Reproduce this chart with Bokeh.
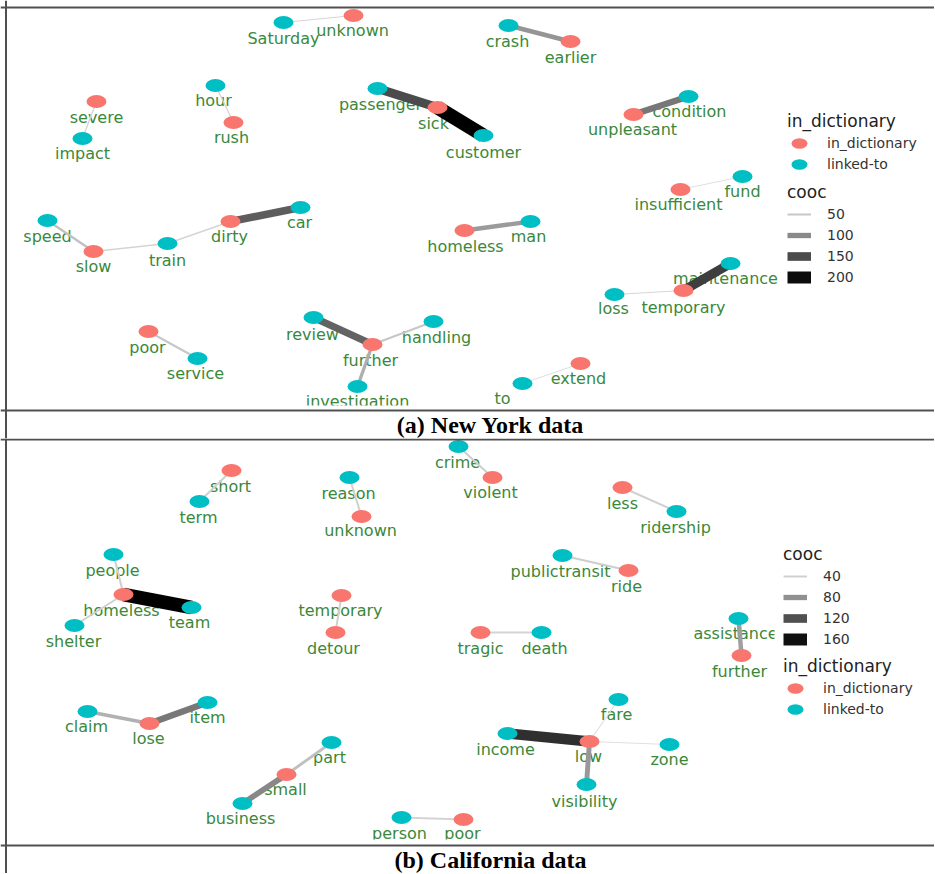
import numpy as np
from bokeh.plotting import figure
from bokeh.models import (ColumnDataSource, Range1d, Span, Label, Legend,
                          LegendItem, BoxAnnotation)
from bokeh.layouts import column
from bokeh.transform import linear_cmap
from bokeh.core.properties import value
from bokeh.embed import file_html
from bokeh.resources import INLINE

# ---------------- (a) New York data ----------------
ny_names = ["Saturday", "unknown", "crash", "earlier", "severe", "impact", "hour", "rush",
            "passenger", "sick", "customer", "unpleasant", "condition", "insufficient", "fund",
            "speed", "slow", "train", "dirty", "car", "homeless", "man", "maintenance", "loss",
            "temporary", "poor", "service", "review", "further", "handling", "investigation",
            "to", "extend"]
ny_kind = ["L", "D", "L", "D", "D", "L", "L", "D", "L", "D", "L", "D", "L", "D", "L",
           "L", "D", "L", "D", "L", "D", "L", "L", "L", "D", "D", "L", "L", "D", "L", "L",
           "L", "D"]
ny_x = [283, 353, 508, 570, 96, 82, 215, 233, 377, 437, 483, 633, 688, 680, 742,
        47, 93, 167, 230, 300, 464, 530, 730, 614, 683, 148, 197, 313, 372, 433, 357, 522, 580]
ny_y = [22, 15, 25, 41, 101, 138, 85, 122, 88, 107, 135, 114, 96, 189, 176,
        220, 251, 243, 221, 207, 230, 221, 263, 294, 290, 331, 358, 317, 344, 321, 386, 383, 363]
ny_lx = [283, 352, 507, 570, 96, 82, 213, 231, 380, 433, 483, 632, 689, 678, 742,
         47, 93, 167, 229, 299, 465, 528, 725, 613, 683, 147, 195, 312, 370, 436, 357, 502, 578]
ny_ly = [38, 30, 41, 57, 117, 153, 100, 137, 104, 123, 152, 129, 111, 204, 191,
         236, 266, 260, 236, 222, 246, 236, 278, 308, 307, 347, 373, 334, 360, 337, 401, 398, 378]
ny_from = ["Saturday", "crash", "severe", "hour", "passenger", "sick", "unpleasant", "insufficient",
           "speed", "slow", "train", "dirty", "homeless", "maintenance", "loss", "poor", "review",
           "further", "further", "to"]
ny_to = ["unknown", "earlier", "impact", "rush", "sick", "customer", "condition", "fund",
         "slow", "train", "dirty", "car", "man", "temporary", "temporary", "service", "further",
         "handling", "investigation", "extend"]
ny_cooc = [38, 90, 40, 40, 150, 230, 115, 30, 55, 40, 40, 135, 85, 160, 38, 50, 130, 50, 70, 32]
ny_cooc_ticks = [50, 100, 150, 200]

# ---------------- (b) California data ----------------
ca_names = ["crime", "violent", "short", "term", "reason", "unknown", "less", "ridership",
            "people", "homeless", "team", "shelter", "temporary", "detour", "publictransit",
            "ride", "tragic", "death", "assistance", "further", "claim", "lose", "item", "fare",
            "income", "low", "zone", "part", "small", "visibility", "business", "person", "poor"]
ca_kind = ["L", "D", "D", "L", "L", "D", "D", "L", "L", "D", "L", "L", "D", "D", "L",
           "D", "D", "L", "L", "D", "L", "D", "L", "L", "L", "D", "L", "L", "D", "L", "L", "L", "D"]
ca_x = [458, 492, 231, 199, 349, 361, 622, 676, 113, 123, 191, 74, 341, 335, 562,
        628, 480, 541, 738, 741, 87, 149, 207, 618, 507, 589, 669, 331, 286, 586, 242, 401, 463]
ca_y = [446, 477, 470, 501, 477, 516, 487, 511, 554, 594, 607, 625, 595, 632, 555,
        570, 632, 632, 618, 655, 711, 723, 702, 699, 733, 741, 744, 742, 774, 784, 803, 817, 819]
ca_lx = [457, 490, 230, 198, 348, 360, 622, 675, 112, 121, 189, 73, 340, 333, 560,
         626, 480, 544, 735, 739, 86, 148, 207, 616, 505, 588, 669, 329, 285, 584, 240, 399, 462]
ca_ly = [462, 492, 486, 517, 493, 530, 503, 527, 570, 610, 622, 641, 610, 648, 571,
         586, 648, 648, 633, 671, 726, 738, 717, 714, 749, 756, 759, 757, 789, 801, 818, 833, 833]
ca_from = ["crime", "short", "reason", "less", "people", "homeless", "homeless", "temporary",
           "publictransit", "tragic", "assistance", "claim", "lose", "part", "small", "fare",
           "income", "low", "low", "person"]
ca_to = ["violent", "term", "unknown", "ridership", "homeless", "team", "shelter", "detour",
         "ride", "death", "further", "lose", "item", "small", "business", "low",
         "low", "zone", "visibility", "poor"]
ca_cooc = [42, 40, 40, 40, 40, 180, 40, 40, 42, 38, 70, 60, 95, 50, 85, 30, 140, 30, 75, 38]
ca_cooc_ticks = [40, 80, 120, 160]

KIND_LABEL = {"D": "in_dictionary", "L": "linked-to"}
KIND_COLOR = {"D": "#F8766D", "L": "#00BFC4"}
TEXT_GREEN = "#3a883a"
BORDER = "#505050"
GRAYS = ["#%02x%02x%02x" % (v, v, v) for v in np.linspace(224, 0, 256).round().astype(int)]
W = 934


def width_scale(vals, ticks):
    lo, hi = ticks[0], ticks[-1]
    return [max(1.0, 2 + (v - lo) * 10.0 / (hi - lo)) for v in vals]


def legend_style(lg):
    lg.title_text_font = "DejaVu Sans"
    lg.title_text_font_size = "17px"
    lg.title_text_font_style = "normal"
    lg.title_text_color = "#222222"
    lg.title_standoff = 2
    lg.label_text_font = "DejaVu Sans"
    lg.label_text_font_size = "14px"
    lg.label_text_color = "#333333"
    lg.glyph_width = 24
    lg.glyph_height = 20
    lg.label_height = 20
    lg.label_standoff = 16
    lg.spacing = 1
    lg.padding = 0
    lg.margin = 0
    lg.border_line_color = None
    lg.background_fill_alpha = 0


def panel(names, kind, x, y, lx, ly, efrom, eto, cooc, ticks, c_lo, c_hi,
          y_top, y_bot, clip_y, clip_x, line_top, line_cap, caption, cap_y, cap_size,
          leg_x, node_leg_y, cooc_leg_y, cooc_first):
    p = figure(width=W, height=y_bot - y_top, x_range=Range1d(0, W),
               y_range=Range1d(y_bot, y_top),
               output_backend="svg", toolbar_location=None, title=None,
               x_axis_location=None, y_axis_location=None, min_border=0,
               outline_line_color=None, background_fill_color="white",
               border_fill_color="white")
    p.grid.visible = False

    idx = {n: i for i, n in enumerate(names)}
    nodes = ColumnDataSource(dict(
        name=names, x=x, y=y, lx=lx, ly=ly,
        kind=[KIND_LABEL[k] for k in kind],
        color=[KIND_COLOR[k] for k in kind]))
    edges = ColumnDataSource(dict(
        x0=[x[idx[a]] for a in efrom], y0=[y[idx[a]] for a in efrom],
        x1=[x[idx[b]] for b in eto], y1=[y[idx[b]] for b in eto],
        cooc=cooc, w=width_scale(cooc, ticks)))
    nan = [float("nan")] * len(ticks)
    keys = ColumnDataSource(dict(x0=nan, y0=nan, x1=nan, y1=nan, cooc=ticks,
                                 w=width_scale(ticks, ticks)))
    cmap = linear_cmap("cooc", GRAYS, c_lo, c_hi)

    p.text(x="lx", y="ly", text="name", source=nodes, text_font=value("DejaVu Sans"),
           text_font_size="16px", text_color=TEXT_GREEN, text_align="center",
           text_baseline="middle")
    p.segment(x0="x0", y0="y0", x1="x1", y1="y1", source=edges, line_color=cmap,
              line_width="w")
    r_keys = p.segment(x0="x0", y0="y0", x1="x1", y1="y1", source=keys, line_color=cmap,
                       line_width="w")
    r_nodes = p.ellipse(x="x", y="y", width=20, height=13, width_units="screen",
                        height_units="screen", fill_color="color", line_color=None,
                        source=nodes)

    # panel clipping (as in the original ggplot panel) and caption box
    p.add_layout(BoxAnnotation(left=clip_x, right=W, top=y_top, bottom=clip_y,
                               fill_color="white", fill_alpha=1, line_color=None))
    p.add_layout(BoxAnnotation(left=0, right=W, top=clip_y, bottom=y_bot,
                               fill_color="white", fill_alpha=1, line_color=None))
    p.add_layout(Span(location=5.5, dimension="height", line_color=BORDER, line_width=2))
    p.add_layout(Span(location=line_top, dimension="width", line_color=BORDER, line_width=2))
    p.add_layout(Span(location=line_cap, dimension="width", line_color=BORDER, line_width=2))
    p.add_layout(Label(x=490, y=cap_y, text=caption, text_font="Liberation Serif",
                       text_font_style="bold", text_font_size=cap_size, text_color="black",
                       text_align="center", text_baseline="middle"))

    i_d = kind.index("D")
    i_l = kind.index("L")
    node_leg = Legend(items=[LegendItem(label="in_dictionary", renderers=[r_nodes], index=i_d),
                             LegendItem(label="linked-to", renderers=[r_nodes], index=i_l)],
                      title="in_dictionary", location=(leg_x, node_leg_y))
    cooc_leg = Legend(items=[LegendItem(label=str(t), renderers=[r_keys], index=i)
                             for i, t in enumerate(ticks)],
                      title="cooc", location=(leg_x, cooc_leg_y))
    legend_style(node_leg)
    legend_style(cooc_leg)
    if cooc_first:
        p.add_layout(cooc_leg)
        p.add_layout(node_leg)
    else:
        p.add_layout(node_leg)
        p.add_layout(cooc_leg)
    return p


pa = panel(ny_names, ny_kind, ny_x, ny_y, ny_lx, ny_ly, ny_from, ny_to, ny_cooc,
           ny_cooc_ticks, 30, 210, y_top=0, y_bot=438, clip_y=405, clip_x=778,
           line_top=7, line_cap=410, caption="(a) New York data", cap_y=424, cap_size="24px",
           leg_x=787, node_leg_y=264, cooc_leg_y=151, cooc_first=False)
pb = panel(ca_names, ca_kind, ca_x, ca_y, ca_lx, ca_ly, ca_from, ca_to, ca_cooc,
           ca_cooc_ticks, 30, 170, y_top=438, y_bot=873, clip_y=839, clip_x=774,
           line_top=439, line_cap=845, caption="(b) California data", cap_y=859,
           cap_size="24px", leg_x=783, node_leg_y=154, cooc_leg_y=224, cooc_first=True)

layout = column(pa, pb, spacing=0)
open("out.html", "w").write(file_html(layout, INLINE))
